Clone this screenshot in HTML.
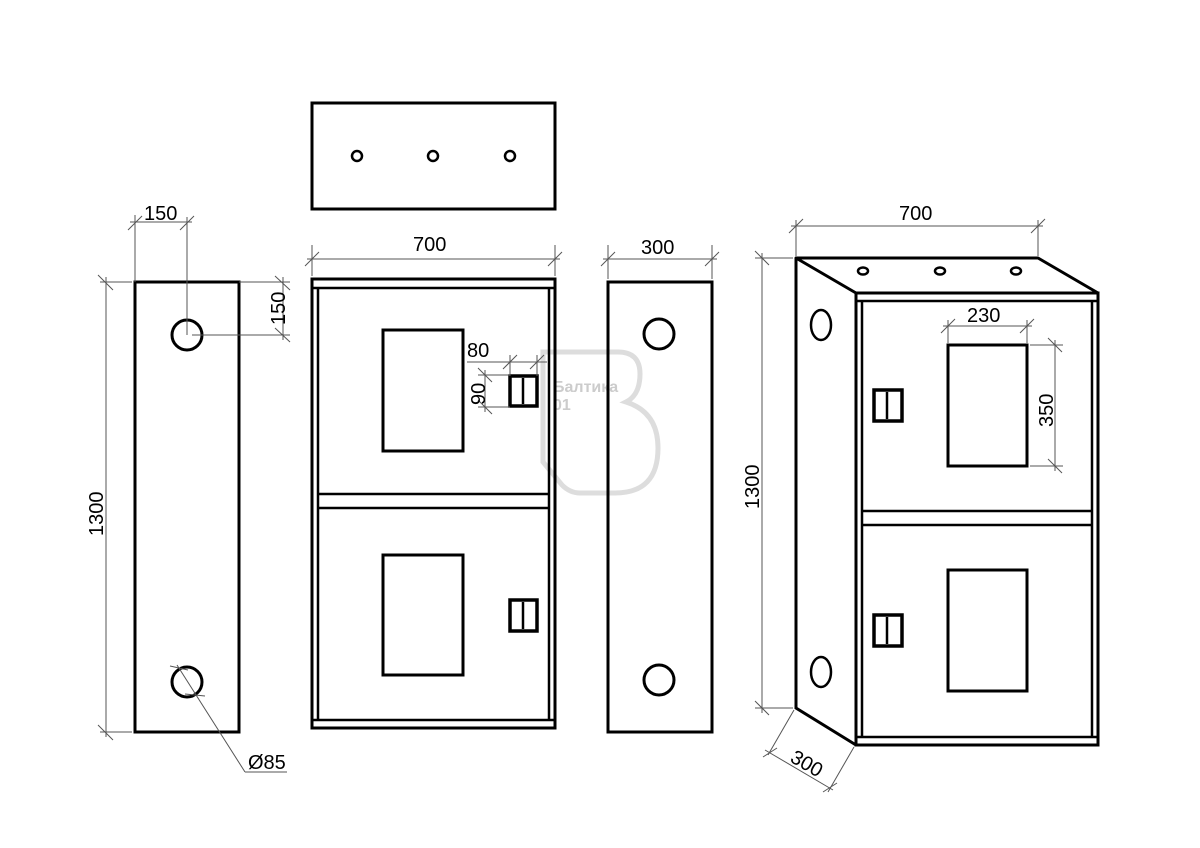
<!DOCTYPE html>
<html><head><meta charset="utf-8"><style>
html,body{margin:0;padding:0;background:#fff;}
svg{display:block;}
text{font-family:"Liberation Sans",sans-serif;font-size:20px;fill:#000;}
</style></head><body>
<svg width="1200" height="848" viewBox="0 0 1200 848" xmlns="http://www.w3.org/2000/svg">
<!-- faint watermark -->
<g fill="none" stroke="#ddd" stroke-width="5">
<path d="M543 352 L618 352 Q640 352 640 374 Q640 395 626 402 Q658 412 658 448 Q658 493 615 493 L580 493 Q570 493 562 485 L543 462 Z"/>
</g>
<text x="553" y="392" style="font-size:16px;fill:#ccc;font-weight:bold">Балтика</text>
<text x="553" y="410" style="font-size:16px;fill:#ccc;font-weight:bold">01</text>
<g fill="none" stroke="#000">
<!-- top view -->
<rect x="312" y="103" width="243" height="106" stroke-width="3"/>
<circle cx="357" cy="156" r="5" stroke-width="2.5"/>
<circle cx="433" cy="156" r="5" stroke-width="2.5"/>
<circle cx="510" cy="156" r="5" stroke-width="2.5"/>

<!-- left side view -->
<rect x="135" y="282" width="104" height="450" stroke-width="3"/>
<circle cx="187" cy="335" r="15" stroke-width="3"/>
<circle cx="187" cy="682" r="15" stroke-width="3"/>
<g stroke="#555" stroke-width="1">
<line x1="135" y1="215" x2="135" y2="282"/><line x1="187" y1="217" x2="187" y2="335"/>
<line x1="130" y1="222" x2="192" y2="222"/>
<line x1="128" y1="230" x2="142" y2="216"/><line x1="180" y1="230" x2="194" y2="216"/>
<line x1="239" y1="282" x2="290" y2="282"/><line x1="192" y1="335" x2="290" y2="335"/>
<line x1="283" y1="277" x2="283" y2="340"/>
<line x1="275" y1="276" x2="290" y2="290"/><line x1="275" y1="328" x2="290" y2="342"/>
<line x1="100" y1="282" x2="132" y2="282"/><line x1="100" y1="732" x2="132" y2="732"/>
<line x1="106" y1="277" x2="106" y2="737"/>
<line x1="98" y1="275" x2="113" y2="290"/><line x1="98" y1="725" x2="113" y2="740"/>
<line x1="177" y1="665" x2="245" y2="772"/><line x1="245" y1="772" x2="287" y2="772"/>
<line x1="170" y1="666" x2="188" y2="670"/><line x1="185" y1="694" x2="205" y2="696"/>
</g>

<!-- front view -->
<rect x="312" y="279" width="243" height="449" stroke-width="3"/>
<line x1="318" y1="288" x2="318" y2="720" stroke-width="2.5"/>
<line x1="549" y1="288" x2="549" y2="720" stroke-width="2.5"/>
<line x1="312" y1="288" x2="555" y2="288" stroke-width="2.5"/>
<line x1="318" y1="494" x2="549" y2="494" stroke-width="2.5"/>
<line x1="318" y1="508" x2="549" y2="508" stroke-width="2.5"/>
<line x1="312" y1="720" x2="555" y2="720" stroke-width="2.5"/>
<rect x="383" y="330" width="80" height="121" stroke-width="3"/>
<rect x="383" y="555" width="80" height="120" stroke-width="3"/>
<rect x="510" y="376" width="27" height="30" stroke-width="3.5"/>
<line x1="523" y1="378" x2="523" y2="404" stroke-width="2.5"/>
<rect x="510" y="600" width="27" height="31" stroke-width="3.5"/>
<line x1="523" y1="602" x2="523" y2="629" stroke-width="2.5"/>
<g stroke="#555" stroke-width="1">
<line x1="312" y1="245" x2="312" y2="276"/><line x1="555" y1="245" x2="555" y2="276"/>
<line x1="307" y1="259" x2="560" y2="259"/>
<line x1="305" y1="266" x2="319" y2="252"/><line x1="548" y1="266" x2="562" y2="252"/>
<line x1="467" y1="362" x2="547" y2="362"/>
<line x1="510" y1="355" x2="510" y2="376"/><line x1="537" y1="355" x2="537" y2="376"/>
<line x1="503" y1="369" x2="517" y2="355"/><line x1="530" y1="369" x2="544" y2="355"/>
<line x1="478" y1="375" x2="510" y2="375"/><line x1="478" y1="407" x2="510" y2="407"/>
<line x1="485" y1="370" x2="485" y2="412"/>
<line x1="478" y1="368" x2="492" y2="382"/><line x1="478" y1="400" x2="492" y2="414"/>
</g>

<!-- right side view -->
<rect x="608" y="282" width="104" height="450" stroke-width="3"/>
<circle cx="659" cy="334" r="15" stroke-width="3"/>
<circle cx="659" cy="680" r="15" stroke-width="3"/>
<g stroke="#555" stroke-width="1">
<line x1="608" y1="245" x2="608" y2="279"/><line x1="712" y1="245" x2="712" y2="279"/>
<line x1="603" y1="259" x2="717" y2="259"/>
<line x1="601" y1="266" x2="615" y2="252"/><line x1="705" y1="266" x2="719" y2="252"/>
</g>

<!-- iso view -->
<path d="M796 258 L1038 258 L1098 293 L856 293 Z" stroke-width="3" stroke-linejoin="round"/>
<path d="M796 258 L796 708 L856 745" stroke-width="3"/>
<rect x="856" y="293" width="242" height="452" stroke-width="3"/>
<line x1="856" y1="301" x2="1098" y2="301" stroke-width="2.5"/>
<line x1="862" y1="301" x2="862" y2="737" stroke-width="2.5"/>
<line x1="1092" y1="301" x2="1092" y2="737" stroke-width="2.5"/>
<line x1="862" y1="511" x2="1092" y2="511" stroke-width="2.5"/>
<line x1="862" y1="525" x2="1092" y2="525" stroke-width="2.5"/>
<line x1="856" y1="737" x2="1098" y2="737" stroke-width="2.5"/>
<ellipse cx="863" cy="271" rx="5" ry="3.5" stroke-width="2.5"/>
<ellipse cx="940" cy="271" rx="5" ry="3.5" stroke-width="2.5"/>
<ellipse cx="1016" cy="271" rx="5" ry="3.5" stroke-width="2.5"/>
<ellipse cx="821" cy="325" rx="10" ry="15" stroke-width="2.5"/>
<ellipse cx="821" cy="672" rx="10" ry="15" stroke-width="2.5"/>
<rect x="948" y="345" width="79" height="121" stroke-width="3"/>
<rect x="948" y="570" width="79" height="121" stroke-width="3"/>
<rect x="874" y="390" width="28" height="31" stroke-width="3.5"/>
<line x1="887" y1="392" x2="887" y2="419" stroke-width="2.5"/>
<rect x="874" y="615" width="28" height="31" stroke-width="3.5"/>
<line x1="887" y1="617" x2="887" y2="644" stroke-width="2.5"/>
<g stroke="#555" stroke-width="1">
<line x1="796" y1="220" x2="796" y2="256"/><line x1="1038" y1="220" x2="1038" y2="256"/>
<line x1="791" y1="226" x2="1043" y2="226"/>
<line x1="789" y1="233" x2="803" y2="219"/><line x1="1031" y1="233" x2="1045" y2="219"/>
<line x1="755" y1="258" x2="793" y2="258"/><line x1="755" y1="708" x2="793" y2="708"/>
<line x1="762" y1="253" x2="762" y2="713"/>
<line x1="755" y1="251" x2="769" y2="265"/><line x1="755" y1="701" x2="769" y2="715"/>
<line x1="948" y1="320" x2="948" y2="343"/><line x1="1027" y1="320" x2="1027" y2="343"/>
<line x1="943" y1="326" x2="1032" y2="326"/>
<line x1="941" y1="333" x2="955" y2="319"/><line x1="1020" y1="333" x2="1034" y2="319"/>
<line x1="1030" y1="345" x2="1063" y2="345"/><line x1="1030" y1="466" x2="1063" y2="466"/>
<line x1="1055" y1="340" x2="1055" y2="471"/>
<line x1="1048" y1="338" x2="1062" y2="352"/><line x1="1048" y1="459" x2="1062" y2="473"/>
<line x1="794" y1="710" x2="768" y2="755"/><line x1="854" y1="747" x2="828" y2="792"/>
<line x1="765" y1="750" x2="833" y2="790"/>
<line x1="763" y1="757" x2="777" y2="748"/><line x1="823" y1="792" x2="837" y2="783"/>
</g>
</g>

<text x="144" y="220">150</text>
<text transform="translate(285,325) rotate(-90)">150</text>
<text transform="translate(103,536) rotate(-90)">1300</text>
<text x="248" y="769">Ø85</text>
<text x="413" y="251">700</text>
<text x="467" y="357">80</text>
<text transform="translate(485,405) rotate(-90)">90</text>
<text x="641" y="254">300</text>
<text x="899" y="220">700</text>
<text transform="translate(759,509) rotate(-90)">1300</text>
<text x="967" y="322">230</text>
<text transform="translate(1053,427) rotate(-90)">350</text>
<text transform="translate(789,761) rotate(30)">300</text>
</svg>
</body></html>
